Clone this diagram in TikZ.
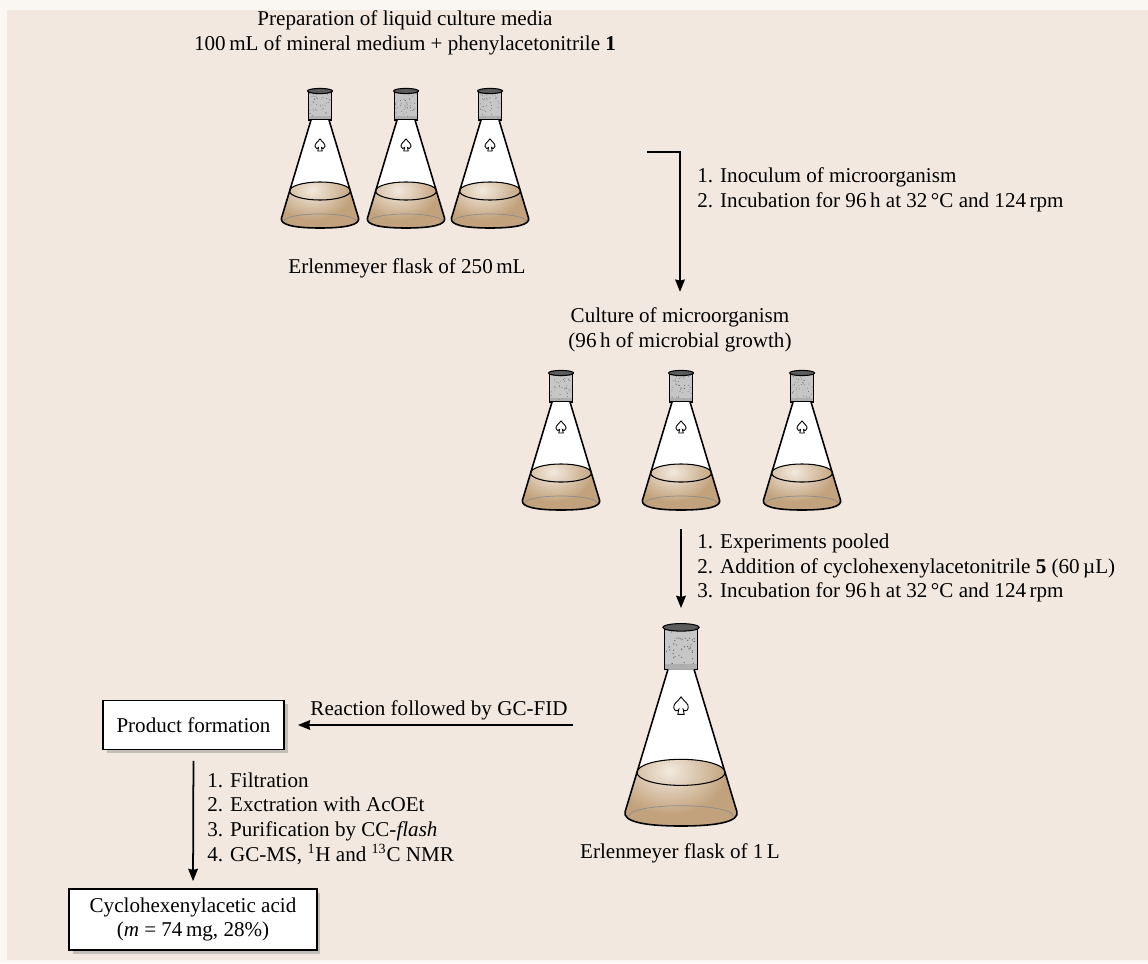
\documentclass[tikz,border=0pt]{standalone}
\usepackage{fontspec}
\setmainfont{Liberation Serif}
\usetikzlibrary{positioning,shadows,arrows.meta}
\definecolor{paper}{HTML}{F2E8DF}
\definecolor{margin}{HTML}{FAF6F2}
\definecolor{broth}{HTML}{C2A27C}
\definecolor{brothLight}{HTML}{F2E9DE}
\definecolor{plug}{HTML}{C6C6C6}
\definecolor{plugCap}{HTML}{5C5C5C}
\tikzset{
  box/.style={rectangle, fill=white, draw, line width=1pt, align=center,
    drop shadow={shadow xshift=2pt, shadow yshift=-2pt, opacity=0.4}},
  caption/.style={align=center, inner sep=0pt},
  stepList/.style={align=left, anchor=west, inner sep=0pt},
  flowArrow/.style={-{Stealth[length=7pt, width=5.5pt, inset=0.6pt]}, line width=1pt},
  % conical flask with cotton plug and broth
  flask/.pic={
    \coordinate (-top) at (0,0);
    \coordinate (-bottom) at (0,140);
    % plug
    \fill[plug] (-11.5,3) rectangle (11.5,32);
    \foreach \k in {1,...,40}
      \fill[black!60] ({-10.5+21*rnd},{5+25*rnd}) circle (0.45);
    \fill[black!35, opacity=0.7] (-11.5,28) rectangle (11.5,32);
    \draw[line width=0.6pt] (-11.5,3) -- (-11.5,32) -- (11.5,32) -- (11.5,3);
    \filldraw[fill=plugCap, line width=0.6pt] (0,3) ellipse (12.5 and 2.6);
    % glass
    \fill[white] (-9,32) -- (-38.5,130) .. controls (-40.5,137) and (-25,140) .. (0,140)
      .. controls (25,140) and (40.5,137) .. (38.5,130) -- (9,32) -- cycle;
    % broth
    \begin{scope}
      \clip (-30.4,103) arc (180:360:30.4 and 9) -- (38.5,130)
        .. controls (40.5,137) and (25,140) .. (0,140)
        .. controls (-25,140) and (-40.5,137) .. (-38.5,130) -- cycle;
      \fill[broth] (-45,90) rectangle (45,145);
      \shade[inner color=brothLight, outer color=broth] (-8,102) ellipse (40 and 30);
    \end{scope}
    \draw[black!45, line width=0.4pt] (-36,133) arc (180:360:36 and 7);
    \draw[line width=0.6pt] (0,103) ellipse (30.4 and 9);
    \draw[line width=0.9pt] (-9,32) -- (-38.5,130) .. controls (-40.5,137) and (-25,140) .. (0,140)
      .. controls (25,140) and (40.5,137) .. (38.5,130) -- (9,32);
    % vent mark
    \filldraw[fill=white, line width=0.5pt] (0,51) .. controls (-2,54) and (-5.5,55.5) .. (-5,58.5)
      .. controls (-4.6,61) and (-2,61) .. (-1.5,59.5) -- (-2.2,63) -- (2.2,63) -- (1.5,59.5)
      .. controls (2,61) and (4.6,61) .. (5,58.5) .. controls (5.5,55.5) and (2,54) .. cycle;
  }
}
\pgfmathsetseed{11}

\begin{document}
\begin{tikzpicture}[x=0.02cm, y=-0.02cm, font={\fontsize{12pt}{14pt}\selectfont}]
  \fill[margin] (0,0) rectangle (1148,963);
  \fill[paper] (7,10) rectangle (1148,960);

  % media flasks
  \node[caption] (media) at (405,33) {Preparation of liquid culture media\\
    100\,mL of mineral medium + phenylacetonitrile \textbf{1}};
  \foreach \n/\x in {m1/320, m2/406, m3/490}
    \pic (\n) at (\x,88) {flask};
  \node[caption] (small) at (407,268) {Erlenmeyer flask of 250\,mL};

  \coordinate (turn1) at (647,152);
  \node[stepList] (inoc) at (697,190) {1. Inoculum of microorganism\\
    2. Incubation for 96\,h at 32\,°C and 124\,rpm};

  % grown cultures
  \node[caption] (culture) at (680,330) {Culture of microorganism\\(96\,h of microbial growth)};
  \foreach \n/\x in {c1/561, c2/681, c3/802}
    \pic (\n) at (\x,370) {flask};
  \draw[flowArrow, shorten >=9pt] (turn1) -| (culture.north);

  % pooled culture
  \pic[scale=1.45] (pool) at (681,623) {flask};
  \node[caption] (large) at (680,853) {Erlenmeyer flask of 1\,L};
  \node[stepList] (poolSteps) at (697,568) {1. Experiments pooled\\
    2. Addition of cyclohexenylacetonitrile \textbf{5} (60\,µL)\\
    3. Incubation for 96\,h at 32\,°C and 124\,rpm};
  \draw[flowArrow, shorten <=11pt, shorten >=8.5pt] (c2-bottom) -- (pool-top);

  % work-up
  \node[box, minimum width=3.62cm, minimum height=0.98cm] (product) at (193.5,725) {Product formation};
  \coordinate (gcfid) at (573,725);
  \node[caption] (gcLabel) at (439,710) {Reaction followed by GC-FID};
  \draw[flowArrow, shorten >=7.4pt] (gcfid) -- (product.east);

  \node[box, minimum width=4.96cm, minimum height=1.22cm] (acid) at (193,919.5)
    {Cyclohexenylacetic acid\\(\textit{m} = 74\,mg, 28\%)};
  \node[stepList] (workup) at (207,818.5) {1. Filtration\\
    2. Exctration with AcOEt\\
    3. Purification by CC-\textit{flash}\\
    4. GC-MS, \textsuperscript{1}H and \textsuperscript{13}C NMR};
  \draw[flowArrow, shorten <=6pt, shorten >=4pt] (product.south) -- (acid.north);
\end{tikzpicture}
\end{document}
